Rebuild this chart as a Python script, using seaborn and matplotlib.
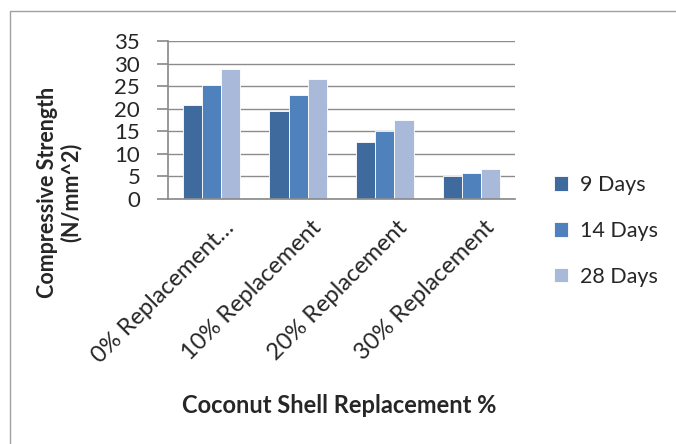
import matplotlib
matplotlib.use("Agg")
import matplotlib.pyplot as plt
import matplotlib.transforms as mtransforms
import seaborn as sns
import pandas as pd
from matplotlib.patches import Rectangle

categories = ["0% Replacement…", "10% Replacement", "20% Replacement", "30% Replacement"]
series_names = ["9 Days", "14 Days", "28 Days"]
days9 = [20.8, 19.5, 12.7, 5.2]
days14 = [25.3, 23.1, 15.1, 5.8]
days28 = [28.9, 26.6, 17.4, 6.6]
colors = ["#3F6A9E", "#4F81BD", "#A8B9DA"]

rows = []
for name, vals in zip(series_names, [days9, days14, days28]):
    for c, v in zip(categories, vals):
        rows.append({"cat": c, "series": name, "val": v})
df = pd.DataFrame(rows)

sns.set_theme(style="white")
plt.rcParams['font.family'] = ['Lato', 'DejaVu Sans']

fig = plt.figure(figsize=(6.76, 4.44), dpi=100)
ax = fig.add_axes([168/676, 1-199/444, (515-168)/676, (199-41)/444])

sns.barplot(data=df, x="cat", y="val", hue="series", palette=colors,
            saturation=1, width=0.66, ax=ax, edgecolor="white",
            linewidth=0.6, legend=True)

ax.set_ylim(0, 35)
ax.set_xlim(-0.5, 3.5)
ax.set_yticks(range(0, 36, 5))
ax.yaxis.grid(True, color="#8C8C8C", linewidth=1.0)
ax.set_axisbelow(True)
for s in ["top", "right"]:
    ax.spines[s].set_visible(False)
ax.spines["left"].set_color("#8C8C8C")
ax.spines["bottom"].set_color("#8C8C8C")
ax.tick_params(axis="y", which="both", left=True, length=8, color="#8C8C8C",
               labelsize=16, pad=12)
ax.tick_params(axis="x", bottom=False, labelsize=17, pad=7)
offset = mtransforms.ScaledTranslation(12/100, 0, fig.dpi_scale_trans)
for lab in ax.get_xticklabels():
    lab.set_rotation(45)
    lab.set_ha("right")
    lab.set_rotation_mode("anchor")
    lab.set_transform(lab.get_transform() + offset)

ax.set_xlabel("Coconut Shell Replacement %", fontsize=17, fontweight="bold")
ax.set_ylabel("Compressive Strength\n(N/mm^2)", fontsize=15.5, fontweight="bold",
              linespacing=1.15)
ax.xaxis.set_label_coords((339-168)/(515-168), -(394-199)/(199-41))
ax.yaxis.set_label_coords(-(168-82)/(515-168), (199-192)/(199-41))

leg = ax.legend(loc="center left", bbox_to_anchor=((554-168)/(515-168), -(231-199)/(199-41)),
                frameon=False, fontsize=15.5, handlelength=0.65, handleheight=0.65,
                labelspacing=1.2, handletextpad=0.55, borderpad=0, borderaxespad=0)

fig.patches.append(Rectangle((10/676, -0.1), 1.0, (444-11)/444 + 0.1,
                             transform=fig.transFigure, fill=False,
                             edgecolor="#A0A0A0", linewidth=1.0))

fig.savefig("out.png", dpi=100)
